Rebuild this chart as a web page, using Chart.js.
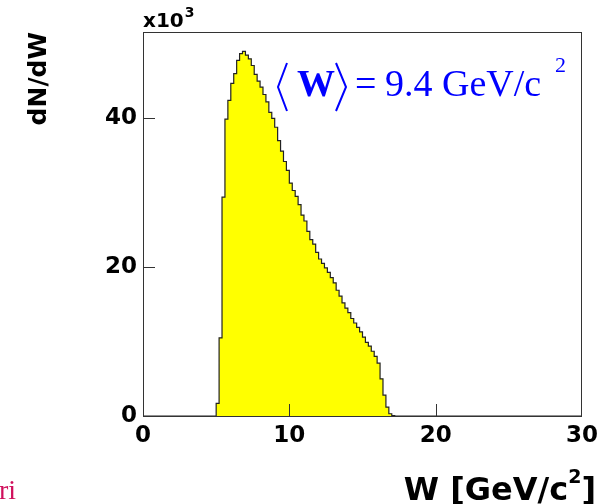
<!DOCTYPE html>
<html>
<head>
<meta charset="utf-8">
<script src="https://cdn.jsdelivr.net/npm/chart.js@4/dist/chart.umd.min.js"></script>
<style>
  html, body { margin: 0; padding: 0; background: #fff; }
</style>
</head>
<body>
<canvas id="wChart" width="599" height="504"></canvas>
<script>
// dN/dW histogram, bin contents in units of 10^3
const wLow = 5.0;        // lower edge of the first filled bin [GeV/c^2]
const binWidth = 0.2;
const counts = [
  1.7, 10.5, 29.4, 39.9, 42.4, 44.7, 46.0, 47.8, 48.7, 49.0,
  48.5, 48.0, 47.1, 45.9, 45.0, 44.2, 43.2, 42.2, 40.8, 40.0,
  38.8, 37.0, 35.6, 34.2, 33.0, 31.3, 30.3, 29.5, 28.4, 27.0,
  26.2, 24.8, 23.7, 23.1, 22.0, 21.1, 20.5, 19.9, 19.3, 18.6,
  17.9, 16.9, 16.1, 15.2, 14.5, 13.9, 13.1, 12.5, 11.9, 11.3,
  10.6, 9.9, 9.4, 8.7, 8.0, 7.1, 5.0, 2.8, 1.2, 0.3, 0.05
];
const xRange = [0, 30];
const yRange = [0, 51.6];
const xTicks = [0, 10, 20, 30];
const yTicks = [0, 20, 40];
const meanW = '9.4';

const points = [{ x: xRange[0], y: 0 }]
  .concat(counts.map((c, i) => ({ x: wLow + i * binWidth, y: c })))
  .concat([{ x: wLow + counts.length * binWidth, y: 0 }, { x: xRange[1], y: 0 }]);

const tickFont = { family: 'DejaVu Sans', weight: 'bold', size: 23 };

const rootFrame = {
  id: 'rootFrame',
  afterDraw(chart) {
    const { ctx, chartArea: a, scales: { x, y } } = chart;
    ctx.save();

    // frame + inward ticks
    ctx.strokeStyle = '#333';
    ctx.lineWidth = 1;
    ctx.strokeRect(a.left + 0.5, a.top + 0.5, a.right - a.left - 1, a.bottom - a.top);
    ctx.beginPath();
    xTicks.slice(1, -1).forEach(v => {
      const px = Math.round(x.getPixelForValue(v)) + 0.5;
      ctx.moveTo(px, a.bottom);
      ctx.lineTo(px, a.bottom - 12);
    });
    yTicks.slice(1).forEach(v => {
      const py = Math.round(y.getPixelForValue(v)) + 0.5;
      ctx.moveTo(a.left, py);
      ctx.lineTo(a.left + 12, py);
    });
    ctx.stroke();

    // axis titles
    ctx.fillStyle = '#000';
    ctx.textBaseline = 'alphabetic';
    ctx.textAlign = 'left';
    ctx.font = 'bold 20px "DejaVu Sans"';
    ctx.fillText('x10', a.left, 27);
    const expX = a.left + ctx.measureText('x10').width + 1;
    ctx.font = 'bold 14px "DejaVu Sans"';
    ctx.fillText('3', expX, 17);

    ctx.save();
    ctx.translate(46, a.top);
    ctx.rotate(-Math.PI / 2);
    ctx.font = 'bold 25px "DejaVu Sans"';
    ctx.textAlign = 'right';
    ctx.fillText('dN/dW', 0, 0);
    ctx.restore();

    ctx.textAlign = 'right';
    ctx.font = 'bold 32px "DejaVu Sans"';
    const closeW = ctx.measureText(']').width;
    ctx.fillText(']', 596, 500);
    ctx.font = 'bold 19px "DejaVu Sans"';
    const supW = ctx.measureText('2').width;
    ctx.fillText('2', 596 - closeW, 483);
    ctx.font = 'bold 32px "DejaVu Sans"';
    ctx.fillText('W [GeV/c', 596 - closeW - supW, 500);

    // mean value label
    ctx.strokeStyle = '#0000ff';
    ctx.fillStyle = '#0000ff';
    ctx.lineWidth = 2;
    ctx.beginPath();
    ctx.moveTo(287, 63); ctx.lineTo(278, 87); ctx.lineTo(287, 111);
    ctx.moveTo(336, 63); ctx.lineTo(346, 87); ctx.lineTo(336, 111);
    ctx.stroke();
    ctx.textAlign = 'left';
    ctx.font = 'bold 38px "Liberation Serif"';
    ctx.fillText('W', 297, 96);
    ctx.font = '38px "Liberation Serif"';
    ctx.fillText('=', 355, 96);
    ctx.fillText(meanW + ' GeV/c', 385, 96);
    ctx.font = '22px "Liberation Serif"';
    ctx.fillText('2', 555, 72);

    // clipped neighbour label
    ctx.fillStyle = '#d0105c';
    ctx.font = '28px "Liberation Serif"';
    ctx.fillText('ri', -1, 499);

    ctx.restore();
  }
};

new Chart(document.getElementById('wChart'), {
  type: 'line',
  data: {
    datasets: [{
      data: points,
      stepped: true,
      fill: 'origin',
      backgroundColor: '#ffff00',
      borderColor: '#222',
      borderWidth: 1.2,
      pointRadius: 0,
    }]
  },
  options: {
    responsive: false,
    animation: false,
    layout: { padding: { left: 73, right: 17, top: 32, bottom: 48 } },
    plugins: { legend: { display: false }, tooltip: { enabled: false } },
    scales: {
      x: {
        type: 'linear',
        min: xRange[0],
        max: xRange[1],
        grid: { display: false, drawTicks: false },
        border: { display: false },
        ticks: { stepSize: 10, color: '#000', font: tickFont, padding: 6, maxRotation: 0 },
        afterFit: s => { s.height = 40; s.paddingLeft = 0; s.paddingRight = 0; },
      },
      y: {
        min: yRange[0],
        max: yRange[1],
        grid: { display: false, drawTicks: false },
        border: { display: false },
        ticks: { stepSize: 20, includeBounds: false, color: '#000', font: tickFont, padding: 6 },
        afterFit: s => { s.width = 70; s.paddingTop = 0; s.paddingBottom = 0; },
      }
    }
  },
  plugins: [rootFrame]
});
</script>
</body>
</html>
